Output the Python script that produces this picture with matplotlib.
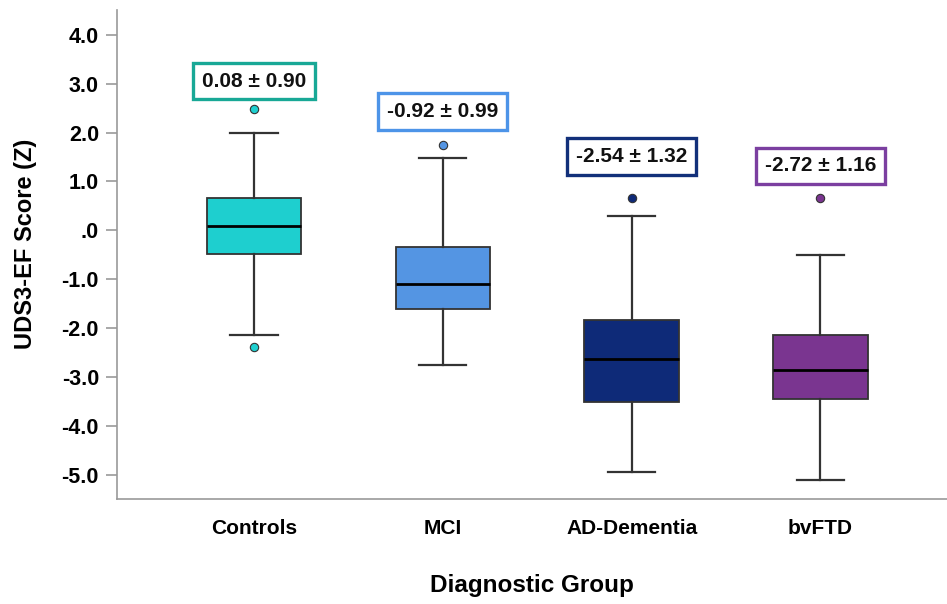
import matplotlib
matplotlib.use("Agg")
import matplotlib.pyplot as plt

plt.rcParams['font.family'] = ['Liberation Sans', 'DejaVu Sans']

groups = ['Controls', 'MCI', 'AD-Dementia', 'bvFTD']
q1 = [-0.49, -1.61, -3.50, -3.44]
med = [0.09, -1.09, -2.64, -2.85]
q3 = [0.67, -0.34, -1.84, -2.15]
whislo = [-2.15, -2.75, -4.94, -5.10]
whishi = [1.99, 1.48, 0.30, -0.51]
outliers = [[2.48, -2.39], [1.74], [0.66], [0.66]]
labels = ['0.08 \u00b1 0.90', '-0.92 \u00b1 0.99', '-2.54 \u00b1 1.32', '-2.72 \u00b1 1.16']
label_y = [3.05, 2.43, 1.51, 1.32]

fill_colors = ['#1ecfcf', '#5495e3', '#0e2a78', '#7a3590']
edge_colors = ['#18a896', '#4d94e8', '#12307a', '#7b3fa0']

stats = []
for i in range(len(groups)):
    stats.append(dict(label=groups[i], q1=q1[i], med=med[i], q3=q3[i],
                      whislo=whislo[i], whishi=whishi[i], fliers=outliers[i]))

fig = plt.figure(figsize=(9.47, 6.04), dpi=100)
ax = fig.add_axes([117/947, 0.1733, 1 - 117/947, 0.983 - 0.1733])

positions = [1, 2, 3, 4]
bp = ax.bxp(stats, positions=positions, widths=0.5, capwidths=0.25,
            patch_artist=True, showfliers=True,
            boxprops=dict(edgecolor='#333333', linewidth=1.3),
            medianprops=dict(color='black', linewidth=2),
            whiskerprops=dict(color='#333333', linewidth=1.6),
            capprops=dict(color='#333333', linewidth=1.6))

for i, patch in enumerate(bp['boxes']):
    patch.set_facecolor(fill_colors[i])
for i, fl in enumerate(bp['fliers']):
    fl.set_marker('o')
    fl.set_markerfacecolor(fill_colors[i])
    fl.set_markeredgecolor('#333333')
    fl.set_markeredgewidth(0.8)
    fl.set_markersize(6)

# mean +- sd boxes above each group
for i in range(len(groups)):
    ax.text(positions[i], label_y[i], labels[i], ha='center', va='center',
            fontsize=15, fontweight='bold', color='#111111',
            bbox=dict(boxstyle='square,pad=0.42', facecolor='white',
                      edgecolor=edge_colors[i], linewidth=2.4))

ax.set_xlim(0.275, 4.67)
ax.set_ylim(-5.5, 4.5)
ax.set_yticks([4, 3, 2, 1, 0, -1, -2, -3, -4, -5])
ax.set_yticklabels(['4.0', '3.0', '2.0', '1.0', '.0', '-1.0', '-2.0', '-3.0', '-4.0', '-5.0'])
ax.set_xticks(positions)
ax.set_xticklabels(groups)

for side in ['top', 'right']:
    ax.spines[side].set_visible(False)
for side in ['left', 'bottom']:
    ax.spines[side].set_color('#999999')
    ax.spines[side].set_linewidth(1.2)

ax.tick_params(axis='y', direction='out', length=8, width=1.2, color='#999999',
               labelsize=15.5, pad=5)
ax.tick_params(axis='x', length=0, labelsize=15, pad=14)
for t in ax.get_yticklabels() + ax.get_xticklabels():
    t.set_fontweight('bold')

ax.set_ylabel('UDS3-EF Score (Z)', fontsize=17, fontweight='bold', va='center')
ax.yaxis.set_label_coords(-0.11, 0.522)
ax.set_xlabel('Diagnostic Group', fontsize=17.5, fontweight='bold', labelpad=26)

plt.savefig('out.png', dpi=100)
